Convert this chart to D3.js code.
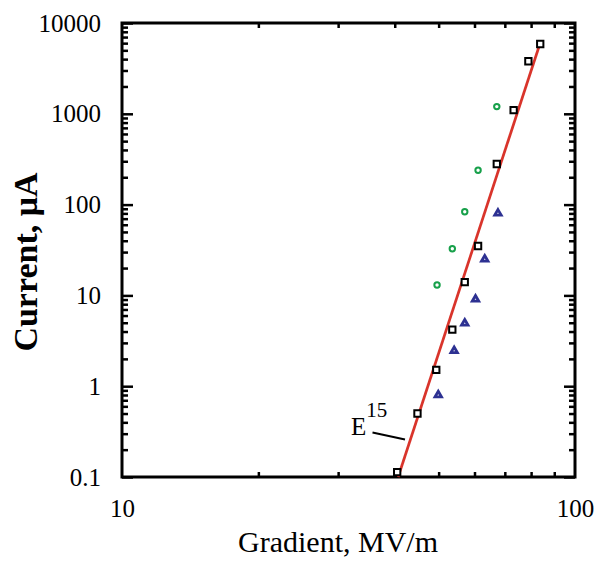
<!DOCTYPE html>
<html>
<head>
<meta charset="utf-8">
<script src="https://cdn.jsdelivr.net/npm/d3@7"></script>
<style>
  html, body { margin: 0; padding: 0; background: #fff; }
  svg { display: block; }
  text { font-family: "Liberation Serif", "Times New Roman", serif; fill: #000; }
</style>
</head>
<body>
<svg id="chart" width="599" height="563"></svg>
<script>
// Field-emission current vs. surface gradient (log-log)
const squareGradient = [40.5, 44.9, 49.4, 53.6, 57.1, 61.1, 67.2, 73.2, 78.9, 83.8];
const squareCurrent  = [0.113, 0.50, 1.51, 4.2, 14.0, 35, 280, 1100, 3790, 5870];

const circleGradient = [49.6, 53.6, 57.1, 61.1, 67.2];
const circleCurrent  = [13.0, 32.7, 83.5, 239, 1200];

const triangleGradient = [49.9, 54.1, 57.1, 60.3, 63.2, 67.6];
const triangleCurrent  = [0.80, 2.46, 4.93, 9.06, 25.0, 80.2];

// E^15 fit, drawn between its two end points
const fitGradient = [40.7, 83.5];
const fitCurrent  = [0.1, 5725];

const xTickLabels = [10, 100];
const yTickLabels = [0.1, 1, 10, 100, 1000, 10000];

const svg = d3.select("#chart");
const plotLeft = 122, plotRight = 575, plotTop = 23, plotBottom = 477;

const x = d3.scaleLog().domain([10, 100]).range([plotLeft, plotRight]);
const y = d3.scaleLog().domain([0.1, 10000]).range([plotBottom, plotTop]);

const xMinor = d3.range(20, 100, 10);
const yMinor = [];
[0.1, 1, 10, 100, 1000].forEach(d => { for (let k = 2; k <= 9; k++) yMinor.push(+(d * k).toPrecision(3)); });

const fmt = d => String(d);

// Frame
svg.append("rect")
  .attr("x", plotLeft).attr("y", plotTop)
  .attr("width", plotRight - plotLeft).attr("height", plotBottom - plotTop)
  .attr("fill", "none").attr("stroke", "#000").attr("stroke-width", 3);

function styleAxis(g) {
  g.select(".domain").remove();
  g.selectAll(".tick line").attr("stroke", "#000").attr("stroke-width", 2.5);
  g.selectAll("text").style("font-size", "25px").attr("fill", "#000");
}

// Bottom axis: minor ticks + labels at 10 and 100
svg.append("g").attr("transform", `translate(0,${plotBottom})`)
  .call(d3.axisBottom(x).tickValues(xMinor).tickSizeInner(-5).tickSizeOuter(0).tickFormat(""))
  .call(styleAxis);
svg.append("g").attr("transform", `translate(0,${plotBottom})`)
  .call(d3.axisBottom(x).tickValues(xTickLabels).tickSizeInner(0).tickSizeOuter(0).tickPadding(22).tickFormat(fmt))
  .call(styleAxis);

// Top axis ticks
svg.append("g").attr("transform", `translate(0,${plotTop})`)
  .call(d3.axisTop(x).tickValues(xMinor).tickSizeInner(-5).tickSizeOuter(0).tickFormat(""))
  .call(styleAxis);

// Left axis
svg.append("g").attr("transform", `translate(${plotLeft},0)`)
  .call(d3.axisLeft(y).tickValues(yMinor).tickSizeInner(-6).tickSizeOuter(0).tickFormat(""))
  .call(styleAxis);
svg.append("g").attr("transform", `translate(${plotLeft},0)`)
  .call(d3.axisLeft(y).tickValues(yTickLabels).tickSizeInner(-11).tickSizeOuter(0).tickPadding(21).tickFormat(fmt))
  .call(styleAxis);

// Right axis
svg.append("g").attr("transform", `translate(${plotRight},0)`)
  .call(d3.axisRight(y).tickValues(yMinor).tickSizeInner(-6).tickSizeOuter(0).tickFormat(""))
  .call(styleAxis);
svg.append("g").attr("transform", `translate(${plotRight},0)`)
  .call(d3.axisRight(y).tickValues(yTickLabels).tickSizeInner(-11).tickSizeOuter(0).tickFormat(""))
  .call(styleAxis);

// Axis titles
svg.append("text")
  .attr("x", 338).attr("y", 552)
  .attr("text-anchor", "middle")
  .style("font-size", "30px")
  .text("Gradient, MV/m");

svg.append("text")
  .attr("transform", "translate(37,262) rotate(-90)")
  .attr("text-anchor", "middle")
  .style("font-size", "34px").style("font-weight", "bold")
  .text("Current, μA");

// Fit line
const line = d3.line().x(d => x(d[0])).y(d => y(d[1]));
svg.append("path")
  .datum(fitGradient.map((g, i) => [g, fitCurrent[i]]))
  .attr("d", line)
  .attr("fill", "none").attr("stroke", "#d9342b").attr("stroke-width", 2.7);

// Fit annotation
svg.append("line")
  .attr("x1", 372.5).attr("y1", 432.5).attr("x2", 405).attr("y2", 439.5)
  .attr("stroke", "#000").attr("stroke-width", 2);
const ann = svg.append("text").attr("x", 351).attr("y", 435).style("font-size", "25px");
ann.append("tspan").text("E");
ann.append("tspan").attr("dy", -18.5).style("font-size", "21px").text("15");

// Markers
function drawSeries(gs, cs, type, size, color, fill, width) {
  svg.append("g").selectAll("path")
    .data(gs.map((g, i) => [g, cs[i]]))
    .join("path")
    .attr("transform", d => `translate(${x(d[0])},${y(d[1])})`)
    .attr("d", d3.symbol().type(type).size(size))
    .attr("fill", fill).attr("stroke", color).attr("stroke-width", width);
}
drawSeries(circleGradient, circleCurrent, d3.symbolCircle, 23, "#17a04a", "none", 2);
drawSeries(triangleGradient, triangleCurrent, d3.symbolTriangle, 18, "#2d3192", "#fff", 2.8);
drawSeries(squareGradient, squareCurrent, d3.symbolSquare, 40, "#000", "#fff", 2);
</script>
</body>
</html>
